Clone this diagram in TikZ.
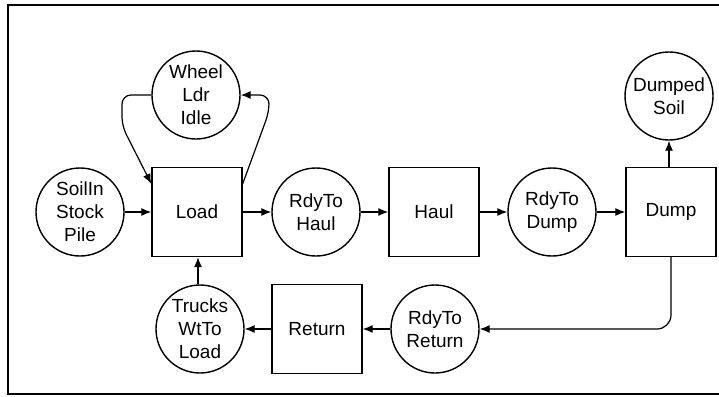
\documentclass[tikz,border=0pt]{standalone}
\usepackage{fontspec}
\setmainfont{Liberation Sans}
\usetikzlibrary{arrows.meta,calc}
\begin{document}
\begin{tikzpicture}[x=1pt,y=-1pt,
  place/.style={draw,circle,line width=1.4pt,minimum size=88pt,inner sep=0pt,align=center,font=\fontsize{19}{23}\selectfont},
  act/.style={draw,rectangle,line width=1.4pt,minimum width=90pt,minimum height=89pt,inner sep=0pt,align=center,font=\fontsize{19}{23}\selectfont},
  arr/.style={line width=1.2pt,-{Latex[length=10pt,width=8pt]}}]
\useasboundingbox (0,0) rectangle (719,396);
\draw[line width=2.5pt] (724,5) -- (8,5) -- (8,394) -- (724,394);

\node[place] (wheel) at (196,95) {Wheel\\Ldr\\Idle};
\node[place] (soil) at (80,212) {SoilIn\\Stock\\Pile};
\node[act] (load) at (197,212) {Load};
\node[place] (rhaul) at (316,212) {RdyTo\\Haul};
\node[act] (haul) at (434,212) {Haul};
\node[place] (rdump) at (552,212) {RdyTo\\Dump};
\node[act] (dump) at (671,212) {Dump};
\node[place] (dsoil) at (669,96) {Dumped\\Soil};
\node[place] (trucks) at (200,329) {Trucks\\WtTo\\Load};
\node[act] (ret) at (317,329) {Return};
\node[place] (rret) at (435,329) {RdyTo\\Return};

\draw[arr] (soil) -- (load);
\draw[arr] (load) -- (rhaul);
\draw[arr] (rhaul) -- (haul);
\draw[arr] (haul) -- (rdump);
\draw[arr] (rdump) -- (dump);
\draw[arr] (dump.north -| dsoil) -- (dsoil);
\draw[arr,rounded corners=14pt] (dump.south) |- (rret.east);
\draw[arr] (rret) -- (ret);
\draw[arr] (ret) -- (trucks);
\draw[arr] (trucks.north -| 198,0) -- (load.south -| 198,0);
\draw[arr,rounded corners=9pt] (wheel.west) -- (122,95) -- (122,126) -- ([yshift=-17pt]load.north west);
\draw[arr,rounded corners=9pt] ([yshift=-17pt]load.north east) -- (269,112) -- (269,95) -- (wheel.east);
\end{tikzpicture}
\end{document}
